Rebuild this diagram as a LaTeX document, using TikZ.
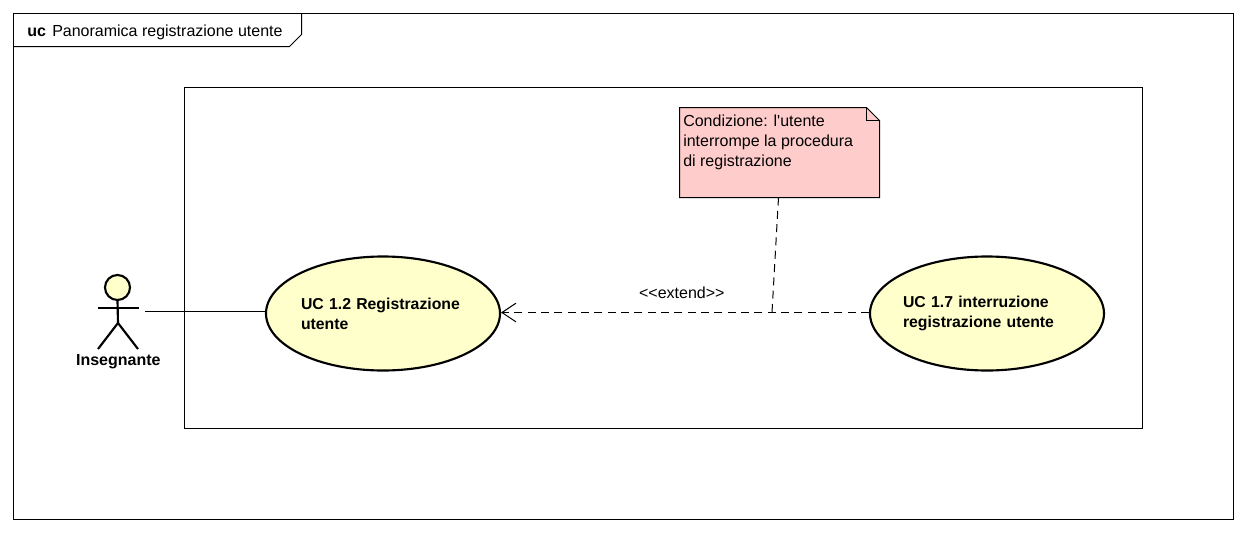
\documentclass[tikz,border=0pt]{standalone}
\usepackage{fontspec}
\setmainfont{Liberation Sans}
\newfontfamily\straightfont{Liberation Sans}
\usetikzlibrary{shapes.geometric,arrows.meta}
\definecolor{ucfill}{RGB}{255,255,204}
\definecolor{notefill}{RGB}{255,204,204}
\tikzset{
  x=0.75pt,y=-0.75pt,
  frameline/.style={draw=black,line width=0.75pt},
  usecase/.style={ellipse,draw=black,line width=1.6pt,fill=ucfill,minimum width=175.5pt,minimum height=85.5pt,inner sep=0pt,font=\fontsize{11.85}{15}\selectfont\bfseries,align=left},
  assoc/.style={draw=black,line width=0.75pt},
  dep/.style={draw=black,line width=0.75pt,dash pattern=on 6pt off 4pt},
  actorline/.style={draw=black,line width=1.6pt},
  plain/.style={inner sep=0pt,font=\fontsize{12}{15}\selectfont},
}
\begin{document}
\begin{tikzpicture}
\useasboundingbox (0,0) rectangle (1246,532);
\fill[white] (0,0) rectangle (1246,532);
% frame
\draw[frameline] (13.5,13.5) rectangle (1233.5,519.5);
\draw[frameline] (13.5,46.5) -- (289.5,46.5) -- (301.5,34.5) -- (301.5,13.5);
\node[plain,anchor=base west] (fk) at (27,36) {\textbf{uc}};
\node[plain,anchor=base west] (ft) at (52,36) {Panoramica registrazione utente};
% boundary
\draw[frameline] (184.5,87.5) rectangle (1142.5,428.5);
% note
\coordinate (n1) at (679.5,107.5);\coordinate (n2) at (866.5,107.5);\coordinate (n3) at (879.5,120.5);\coordinate (n4) at (879.5,197.5);\coordinate (n5) at (679.5,197.5);
\draw[frameline,fill=notefill] (n1) -- (n2) -- (n3) -- (n4) -- (n5) -- cycle;
\draw[frameline] (n2) -- (866.5,120.5) -- (n3);
\node[plain,anchor=north west,align=left] (note) at (683,115) {\straightfont Condizione: l'utente\\\straightfont interrompe la procedura\\\straightfont di registrazione};
\coordinate (noteb) at (778.5,197.5);
% use cases
\node[usecase,text width=123pt] (uca) at (383,313.5) {UC 1.2 Registrazione\\utente};
\node[usecase,text width=126pt,inner sep=-1pt] (ucb) at (987,313.5) {UC 1.7 interruzione\\registrazione utente};
% actor
\node[circle,draw=black,line width=1.6pt,fill=ucfill,minimum size=18.75pt,inner sep=0pt] (head) at (117.5,287.5) {};
\coordinate (neck) at (118,323);
\coordinate (armL) at (98,308);\coordinate (armR) at (139,308);
\coordinate (legL) at (98,349);\coordinate (legR) at (138,349);
\draw[actorline] (head.south) -- (neck);
\draw[actorline] (armL) -- (armR);
\draw[actorline] (legL) -- (neck) -- (legR);
\node[plain,font=\fontsize{12}{15}\selectfont\bfseries] (actor) at (118.3,362) {Insegnante};
\coordinate (actR) at (145,311.5);
% connectors
\draw[assoc] (actR) -- (actR -| uca.west);
\draw[dep,-{Straight Barb[length=10.5pt,width=14pt,line width=0.75pt]}] ([yshift=0.75pt]ucb.west) -- ([yshift=0.75pt]uca.east);
\coordinate (j) at (772,312.5);
\draw[dep] (noteb) -- (j);
\node[plain] (ext) at (681.8,293) {<{}<extend>{}>};
\end{tikzpicture}
\end{document}
